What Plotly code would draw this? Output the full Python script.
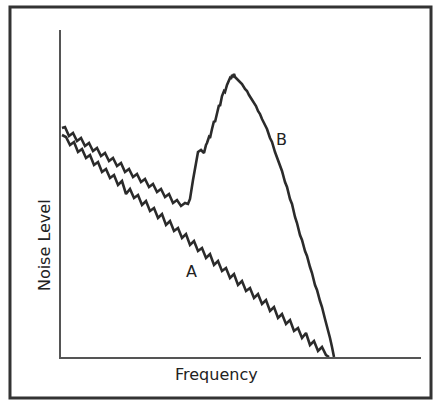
import plotly.graph_objects as go

# Curve A (frequency offset, noise level)
a_x = [1, 5, 9, 13, 17, 21, 25, 29, 33, 37, 41, 45, 49, 53, 57, 61, 65, 69, 73, 77,
       81, 85, 89, 93, 97, 101, 105, 109, 113, 117, 121, 125, 129, 133, 137, 141, 145,
       149, 153, 157, 161, 165, 169, 173, 177, 181, 185, 189, 193, 197, 201, 205, 209,
       213, 217, 221, 225, 229, 233, 237, 241, 245, 249, 253, 257, 261, 265, 268]
a_y = [222, 220, 212, 215, 205, 208, 199, 202, 192, 195, 185, 188, 179, 182, 172, 176,
       163, 168, 159, 162, 152, 156, 146, 149, 139, 143, 132, 136, 126, 129, 119, 123,
       112, 116, 106, 109, 99, 103, 92, 96, 86, 89, 79, 83, 72, 76, 66, 69, 59, 63,
       53, 57, 46, 50, 39, 43, 33, 37, 26, 29, 19, 24, 12, 16, 6, 10, 2, 0]

# Curve B
b_x = [1, 4, 8, 12, 16, 20, 24, 28, 32, 36, 40, 44, 48, 52, 56, 60, 64, 68, 72, 76,
       80, 84, 88, 92, 96, 100, 104, 108, 112, 116, 120, 124, 127,
       129, 132, 135, 137, 140, 143, 145, 146, 148, 149, 151, 153, 154, 156, 158, 159,
       161, 163, 164, 166, 168, 169, 170, 171, 172, 173, 174,
       175, 177, 179, 181, 184, 186, 188, 191, 193, 195, 197, 199, 201, 204, 206, 209,
       211, 214, 216, 219, 221, 224, 226, 229, 231, 234, 236, 239, 241, 244, 246, 249,
       251, 254, 256, 259, 261, 264, 266, 269, 271, 273]
b_y = [229, 230, 221, 224, 216, 219, 211, 214, 206, 209, 201, 204, 196, 199, 191, 194,
       185, 188, 180, 183, 175, 178, 170, 173, 165, 168, 160, 163, 154, 157, 151, 154, 153,
       158, 177, 195, 205, 207, 204, 212, 214, 220, 219, 228, 236, 235, 245, 252, 251,
       261, 266, 265, 272, 276, 279, 278, 282, 281, 283, 280,
       279, 277, 274, 273, 268, 266, 262, 257, 254, 251, 246, 243, 238, 232, 228, 219,
       215, 205, 200, 191, 186, 175, 170, 158, 153, 140, 134, 122, 117, 106, 101, 90,
       84, 72, 67, 56, 50, 38, 31, 19, 10, 0]

line_col = "#2b2b2b"
font = "DejaVu Sans"

fig = go.Figure()
fig.add_trace(go.Scatter(x=a_x, y=a_y, mode="lines", line=dict(color=line_col, width=2.6),
                         showlegend=False, hoverinfo="skip"))
fig.add_trace(go.Scatter(x=b_x, y=b_y, mode="lines", line=dict(color=line_col, width=2.6),
                         showlegend=False, hoverinfo="skip"))

fig.update_layout(
    width=434, height=400,
    margin=dict(l=61, r=13, t=30, b=43),
    paper_bgcolor="white", plot_bgcolor="white",
    xaxis=dict(range=[0, 360], showline=True, linecolor="#555", linewidth=1.5,
               showticklabels=False, ticks="", showgrid=False, zeroline=False, fixedrange=True),
    yaxis=dict(range=[0, 327], showline=True, linecolor="#555", linewidth=1.5,
               showticklabels=False, ticks="", showgrid=False, zeroline=False, fixedrange=True),
    font=dict(family=font, color="#222"),
    annotations=[
        dict(x=130, y=86, xref="x", yref="y", text="A", showarrow=False,
             xanchor="center", yanchor="middle",
             font=dict(size=16, family=font, color="#222")),
        dict(x=220, y=218, xref="x", yref="y", text="B", showarrow=False,
             xanchor="center", yanchor="middle",
             font=dict(size=16, family=font, color="#222")),
        dict(x=0.4306, y=-0.052, xref="paper", yref="paper", text="Frequency",
             xanchor="center", yanchor="middle",
             showarrow=False, font=dict(size=16, family=font, color="#222")),
        dict(x=-0.047, y=0.3425, xref="paper", yref="paper", text="Noise Level",
             xanchor="center", yanchor="middle",
             textangle=-90, showarrow=False, font=dict(size=16, family=font, color="#222")),
    ],
    shapes=[
        dict(type="rect", xref="paper", yref="paper", x0=-0.1417, x1=1.0278,
             y0=-0.1254, y1=1.0703, line=dict(color="#333", width=3)),
    ],
)

fig.write_html("out.html", config={"displayModeBar": False},
               post_script="document.body.style.margin='0';")
